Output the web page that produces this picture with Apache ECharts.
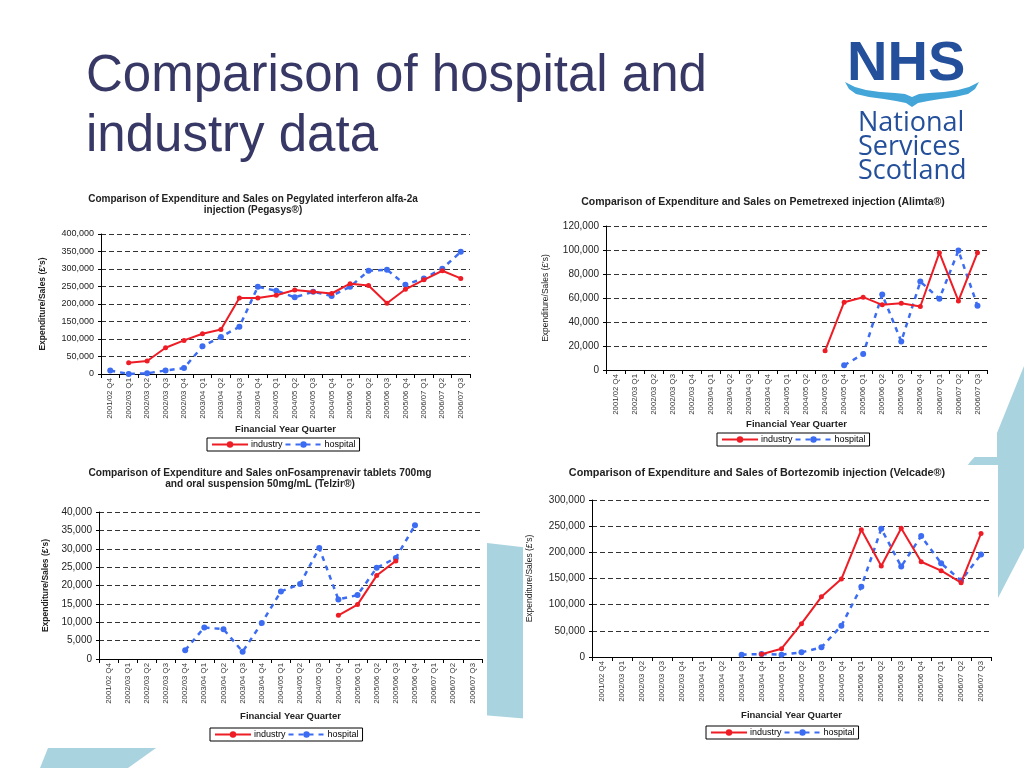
<!DOCTYPE html>
<html><head><meta charset="utf-8">
<script src="https://cdn.jsdelivr.net/npm/echarts/dist/echarts.min.js"></script>
<style>html,body{margin:0;padding:0;background:#fff}#c{width:1024px;height:768px}</style>
</head><body><div id="c"></div>
<script>
// ---------- DATA ----------
const quarters = ['2001/02 Q4','2002/03 Q1','2002/03 Q2','2002/03 Q3','2002/03 Q4','2003/04 Q1','2003/04 Q2','2003/04 Q3','2003/04 Q4','2004/05 Q1','2004/05 Q2','2004/05 Q3','2004/05 Q4','2005/06 Q1','2005/06 Q2','2005/06 Q3','2005/06 Q4','2006/07 Q1','2006/07 Q2','2006/07 Q3'];
const seriesNames = ['industry', 'hospital'];
const slideTitle = 'Comparison of hospital and\nindustry data';
const yAxisName = "Expenditure/Sales (£'s)";
const xAxisName = 'Financial Year Quarter';

const pegasysTitle = 'Comparison of Expenditure and Sales on Pegylated interferon alfa-2a\ninjection (Pegasys®)';
const pegasysIndustry = [null,32000,37000,75000,96000,115000,127000,217000,217000,225000,240000,235000,230000,258000,253000,202000,242000,269000,295000,273000];
const pegasysHospital = [10000,0,2000,10000,17000,79000,106000,135000,249000,238000,219000,235000,223000,249000,295000,298000,255000,273000,301000,349000];

const alimtaTitle = 'Comparison of Expenditure and Sales on Pemetrexed injection (Alimta®)';
const alimtaIndustry = [null,null,null,null,null,null,null,null,null,null,null,16000,56500,60700,54300,55700,52900,97800,57600,97800];
const alimtaHospital = [null,null,null,null,null,null,null,null,null,null,null,null,3900,13300,62900,23800,73700,59300,99500,53500];

const telzirTitle = 'Comparison of Expenditure and Sales onFosamprenavir tablets 700mg\nand oral suspension 50mg/mL (Telzir®)';
const telzirIndustry = [null,null,null,null,null,null,null,null,null,null,null,null,11900,14800,22700,26700,null,null,null,null];
const telzirHospital = [null,null,null,null,2400,8600,8100,2000,9800,18400,20400,30200,16200,17400,24800,27500,36400,null,null,null];

const velcadeTitle = 'Comparison of Expenditure and Sales of Bortezomib injection (Velcade®)';
const velcadeIndustry = [null,null,null,null,null,null,null,null,5100,15900,63600,115000,149000,243000,174000,246000,182000,165000,142000,236000];
const velcadeHospital = [null,null,null,null,null,null,null,4400,5700,4400,8900,18400,59800,134000,245000,173000,231000,179000,146000,196000];

const yMaxes = [400000, 120000, 40000, 300000];
const ySteps = [50000, 20000, 5000, 50000];

// ---------- LAYOUT / STYLE ----------
const FONT = '"Liberation Sans", Arial, sans-serif';
const RED = '#ee1c25', BLUE = '#3c6cf2', LIGHTBLUE = '#a9d3df', NAVY = '#383866', LOGO = '#24509b';

const panels = [
  {title: pegasysTitle, ind: pegasysIndustry, hos: pegasysHospital,
   grid: {left:101, top:234, width:369, height:140}, tx:253, ty:193.5, tSize:10, lab:9,
   legend: {left:207, top:438}, xGap:50, yGap:54},
  {title: alimtaTitle, ind: alimtaIndustry, hos: alimtaHospital,
   grid: {left:606, top:226, width:381, height:144}, tx:763, ty:196.5, tSize:10.5, lab:10,
   legend: {left:717, top:433}, xGap:49, yGap:56},
  {title: telzirTitle, ind: telzirIndustry, hos: telzirHospital,
   grid: {left:99, top:512, width:383, height:147}, tx:260, ty:467.5, tSize:10.2, lab:10,
   legend: {left:210, top:728}, xGap:52, yGap:49},
  {title: velcadeTitle, ind: velcadeIndustry, hos: velcadeHospital,
   grid: {left:592, top:500, width:399, height:157}, tx:757, ty:467.5, tSize:10.8, lab:10,
   legend: {left:706, top:726}, xGap:53, yGap:58}
];

const fmt = v => String(v).replace(/\B(?=(\d{3})+(?!\d))/g, ',');

const titles = [{
  text: slideTitle, left: 86, top: 47, padding: 0,
  textStyle: {fontFamily: FONT, fontSize: 51, fontWeight: 'normal', color: NAVY, lineHeight: 60}
}];
const grids = [], xAxes = [], yAxes = [], series = [], legends = [];

panels.forEach((p, i) => {
  titles.push({
    text: p.title, left: p.tx, top: p.ty, textAlign: 'center', padding: 0,
    textStyle: {fontFamily: FONT, fontSize: p.tSize, fontWeight: 'bold', color: '#222', lineHeight: 11}
  });
  grids.push(Object.assign({outerBoundsMode: 'none', containLabel: false, show: false}, p.grid));
  xAxes.push({
    type: 'category', gridIndex: i, data: quarters, boundaryGap: true,
    name: xAxisName, nameLocation: 'middle', nameGap: p.xGap,
    nameTextStyle: {fontFamily: FONT, fontSize: 9.5, fontWeight: 'bold', color: '#222'},
    axisLine: {show: true, onZero: false, lineStyle: {color: '#000', width: 1}},
    axisTick: {show: true, interval: 0, alignWithLabel: false, length: 4, lineStyle: {color: '#000'}},
    axisLabel: {interval: 0, rotate: 90, margin: 4, fontFamily: FONT, fontSize: 7.8, color: '#333'},
    splitLine: {show: false}
  });
  yAxes.push({
    type: 'value', gridIndex: i, min: 0, max: yMaxes[i], interval: ySteps[i],
    name: yAxisName, nameLocation: 'middle', nameGap: p.yGap,
    nameTextStyle: {fontFamily: FONT, fontSize: 8.5, fontWeight: (i === 0 || i === 2) ? 'bold' : 'normal', color: '#222'},
    axisLine: {show: true, lineStyle: {color: '#000', width: 1}},
    axisTick: {show: true, length: 3, lineStyle: {color: '#000'}},
    axisLabel: {margin: 7, fontFamily: FONT, fontSize: p.lab, color: '#222', formatter: fmt},
    splitLine: {show: true, lineStyle: {color: '#333', type: [5, 3], width: 1}}
  });
  series.push({
    name: seriesNames[0], type: 'line', xAxisIndex: i, yAxisIndex: i, data: p.ind,
    symbol: 'circle', symbolSize: 5, connectNulls: false, z: 3,
    itemStyle: {color: RED}, lineStyle: {color: RED, width: 2}
  });
  series.push({
    name: seriesNames[1], type: 'line', xAxisIndex: i, yAxisIndex: i, data: p.hos,
    symbol: 'circle', symbolSize: 6, connectNulls: false, z: 2,
    itemStyle: {color: BLUE}, lineStyle: {color: BLUE, width: 2.5, type: [5, 5]}
  });
  legends.push({
    data: seriesNames, left: p.legend.left, top: p.legend.top, orient: 'horizontal',
    padding: [2, 4], itemGap: 2, itemWidth: 36, itemHeight: 8,
    borderColor: '#000', borderWidth: 1, backgroundColor: '#fff',
    selectedMode: false,
    textStyle: {fontFamily: FONT, fontSize: 9, color: '#000', padding: [0, 0, 0, -2]}
  });
});

const wave = [[845,82],[855,87],[866,90],[880,92],[895,93],[905,94],[912,97],[919,94],[929,93],[944,92],[958,90],[969,87],[979,82],
              [975,89],[968,94],[955,97],[940,99],[928,101],[918,103],[912,107],[906,103],[896,101],[884,99],[869,97],[856,94],[849,89]];

const graphics = [
  {type:'polygon', z:-3, shape:{points:[[1024,366],[997,433],[970,462],[930,520],[930,690],[998,598],[1024,548]]}, style:{fill:LIGHTBLUE}},
  {type:'polygon', z:-3, shape:{points:[[470,541],[530,548],[530,719],[470,714]]}, style:{fill:LIGHTBLUE}},
  {type:'polygon', z:-3, shape:{points:[[48,748],[156,748],[128,768],[40,768]]}, style:{fill:LIGHTBLUE}},
  {type:'rect', z:-2, shape:{x:523, y:465, width:475, height:285}, style:{fill:'#fff'}},
  {type:'rect', z:-2, shape:{x:30, y:458, width:457, height:290}, style:{fill:'#fff'}},
  {type:'rect', z:-2, shape:{x:530, y:186, width:467, height:271}, style:{fill:'#fff'}},
  {type:'text', x:847, y:65, style:{text:'NHS', font:'bold 56px "Liberation Sans", Arial', fill:LOGO, verticalAlign:'middle', align:'left'}},
  {type:'polygon', shape:{points: wave}, style:{fill:'#43a5d8'}},
  {type:'text', x:858, y:123, style:{text:'National', font:'27px "Open Sans", "Noto Sans"', fill:LOGO, verticalAlign:'middle', align:'left'}},
  {type:'text', x:858, y:147, style:{text:'Services', font:'27px "Open Sans", "Noto Sans"', fill:LOGO, verticalAlign:'middle', align:'left'}},
  {type:'text', x:858, y:171, style:{text:'Scotland', font:'27px "Open Sans", "Noto Sans"', fill:LOGO, verticalAlign:'middle', align:'left'}}
];

const chart = echarts.init(document.getElementById('c'), null, {renderer: 'canvas'});
chart.setOption({
  animation: false,
  backgroundColor: '#fff',
  title: titles,
  grid: grids,
  xAxis: xAxes,
  yAxis: yAxes,
  legend: legends,
  series: series,
  graphic: graphics
});
</script></body></html>
